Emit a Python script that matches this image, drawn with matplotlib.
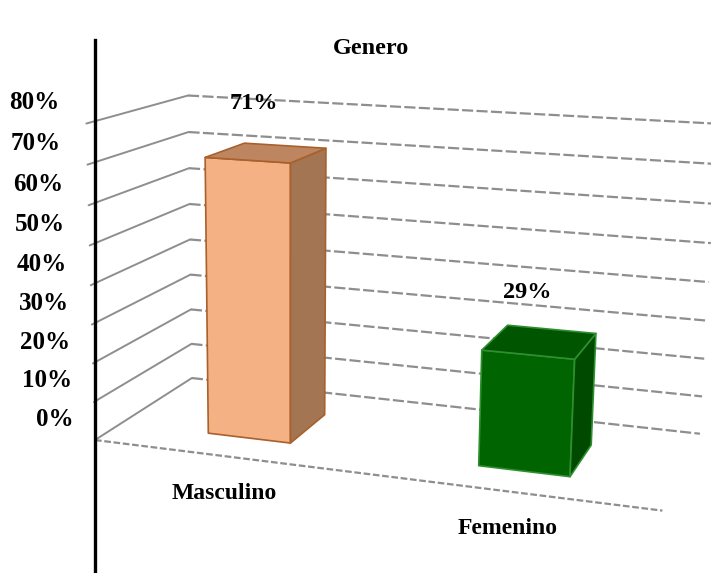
import numpy as np
import matplotlib
matplotlib.use("Agg")
import matplotlib.pyplot as plt

# ---------------- data ----------------
title = "Genero"
categories = ["Masculino", "Femenino"]
values = [0.71, 0.29]
value_labels = ["71%", "29%"]
tick_values = [0.0, 0.1, 0.2, 0.3, 0.4, 0.5, 0.6, 0.7, 0.8]
tick_labels = ["0%", "10%", "20%", "30%", "40%", "50%", "60%", "70%", "80%"]

# ---------------- style ----------------
front_colors = ["#F4B183", "#006400"]
top_colors = ["#BE8660", "#005500"]
side_colors = ["#A47552", "#004A00"]
edge_colors = ["#A8602C", "#2F8F2F"]
grid_color = "#8E8E8E"
FONT = "Liberation Serif"

# ---------------- 3-D scene (perspective camera) ----------------
W, H = 711, 573
F = 1731.0
CX, CY = 355.0, 286.0
pitch, yaw, roll = np.radians(13.37), np.radians(18.96), np.radians(0.51)
sp, cp, sy, cy_, sr, cr = np.sin(pitch), np.cos(pitch), np.sin(yaw), np.cos(yaw), np.sin(roll), np.cos(roll)
RIGHT = np.array([cy_, 0.0, sy])
UP = np.array([-sy * sp, cp, cy_ * sp])
FWD = np.array([-sy * cp, -sp, cy_ * cp])

X0, CAT_W = -4.506, 1.637          # left wall position, width of a category slot
Z_FRONT, DEPTH = 8.518, 1.353      # floor front and depth
FLOOR_Y, Y_SCALE = -3.191, 2.298   # floor height, world units per 100 %
BAR_W = 0.315                       # fraction of category slot
BAR_D = (0.255, 0.68)               # bar depth range as fraction of floor depth


def world(xc, val, d):
    return np.array([X0 + xc * CAT_W, FLOOR_Y + val * Y_SCALE, Z_FRONT + d * DEPTH])


def proj(xc, val, d):
    p = world(xc, val, d)
    xcam, ycam, zcam = p @ RIGHT, p @ UP, p @ FWD
    xp, yp = F * xcam / zcam, -F * ycam / zcam
    return CX + cr * xp - sr * yp, CY + sr * xp + cr * yp


def poly(pts):
    return np.array([proj(*q) for q in pts])


fig = plt.figure(figsize=(W / 100, H / 100), dpi=100)
ax = fig.add_axes([0, 0, 1, 1])
ax.set_xlim(0, W)
ax.set_ylim(H, 0)
ax.axis("off")

n = len(categories)

# gridlines on walls
for t in tick_values:
    lw_pts = poly([(0, t, 0), (0, t, 1)])
    ax.plot(lw_pts[:, 0], lw_pts[:, 1], color=grid_color, lw=1.4, solid_capstyle="round", zorder=1)
    bw = poly([(0, t, 1), (n, t, 1)])
    ax.plot(bw[:, 0], bw[:, 1], color=grid_color, lw=1.6, dashes=(5, 1.5), zorder=1)
# floor front edge
fe = poly([(0, 0, 0), (n, 0, 0)])
ax.plot(fe[:, 0], fe[:, 1], color=grid_color, lw=1.6, dashes=(3, 1.2), zorder=1)

# bars
for i, v in enumerate(values):
    xa = i + 0.5 - BAR_W / 2
    xb = i + 0.5 + BAR_W / 2
    d0, d1 = BAR_D
    front = poly([(xa, 0, d0), (xb, 0, d0), (xb, v, d0), (xa, v, d0)])
    side = poly([(xb, 0, d0), (xb, 0, d1), (xb, v, d1), (xb, v, d0)])
    top = poly([(xa, v, d0), (xb, v, d0), (xb, v, d1), (xa, v, d1)])
    for pts, col in ((front, front_colors[i]), (side, side_colors[i]), (top, top_colors[i])):
        ax.fill(pts[:, 0], pts[:, 1], facecolor=col, edgecolor=edge_colors[i], lw=1.2,
                joinstyle="round", zorder=3 + i)
    # value label
    u, w_ = proj(i + 0.5, v, (d0 + d1) / 2)
    ax.annotate(value_labels[i], (u, w_), xytext=(-13, 49), textcoords="offset pixels",
                ha="center", va="center", fontsize=17.5, fontweight="bold", family=FONT, zorder=6)
    # category label
    u, w_ = proj(i + 0.5, 0, 0)
    ax.annotate(categories[i], (u, w_), xytext=(-1, -37), textcoords="offset pixels",
                ha="center", va="center", fontsize=17, fontweight="bold", family=FONT, zorder=6)

# value-axis tick labels
top_tick = max(tick_values)
for t, lab in zip(tick_values, tick_labels):
    u, w_ = proj(0, t, 0)
    ax.annotate(lab, (u, w_), xytext=(-27 + 6 * (1 - t / top_tick), 21), textcoords="offset pixels",
                ha="right", va="center", fontsize=18, fontweight="bold", family=FONT)

# title
ax.text(371, 49, title, ha="center", va="center", fontsize=17.5, fontweight="bold", family=FONT)

# vertical black rule on the left
ax.plot([95, 95], [40, H], color="black", lw=2.4, zorder=7)

fig.savefig("out.png", dpi=100)
